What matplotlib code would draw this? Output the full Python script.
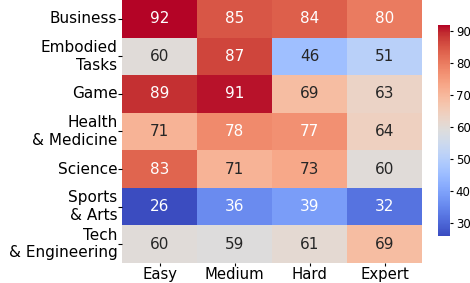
import matplotlib
matplotlib.use("Agg")
import matplotlib.pyplot as plt
import numpy as np
import seaborn as sns

rows = ["Business", "Embodied\nTasks", "Game", "Health\n& Medicine", "Science", "Sports\n& Arts", "Tech\n& Engineering"]
cols = ["Easy", "Medium", "Hard", "Expert"]
business = [92, 85, 84, 80]
embodied = [60, 87, 46, 51]
game = [89, 91, 69, 63]
health = [71, 78, 77, 64]
science = [83, 71, 73, 60]
sports = [26, 36, 39, 32]
tech = [60, 59, 61, 69]

data = np.array([business, embodied, game, health, science, sports, tech])

fig = plt.figure(figsize=(4.7, 2.83), dpi=100)
ax = fig.add_axes([0.26, 0.071, 0.638, 0.929])
cax = fig.add_axes([0.932, 0.166, 0.026, 0.746])
sns.heatmap(data, ax=ax, cbar_ax=cax, cmap="coolwarm", annot=True, fmt="d",
            annot_kws={"size": 11}, xticklabels=cols, yticklabels=rows)
ax.tick_params(axis="y", labelsize=11, length=3, pad=0.5)
ax.tick_params(axis="x", labelsize=10.7, length=2, pad=1)
plt.setp(ax.get_yticklabels(), rotation=0)
plt.setp(ax.get_xticklabels(), rotation=0)
cax.set_yticks([30, 40, 50, 60, 70, 80, 90])
cax.tick_params(labelsize=8.5, length=2.5, pad=1.5)
fig.savefig("out.png", dpi=100)
